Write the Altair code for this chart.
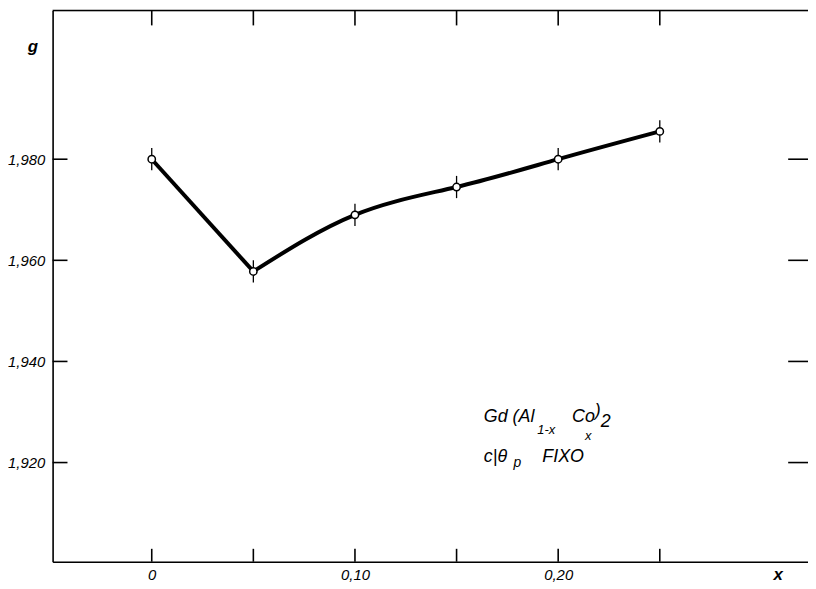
import altair as alt
import pandas as pd

# ---- data ----
x_vals = [0.00, 0.05, 0.10, 0.15, 0.20, 0.25]
g_vals = [1.980, 1.9578, 1.969, 1.9745, 1.980, 1.9855]
g_err = [0.0022, 0.0022, 0.0022, 0.0022, 0.0022, 0.0022]

x_tick_values = [0.00, 0.05, 0.10, 0.15, 0.20, 0.25]
x_label_values = [0.00, 0.10, 0.20]
y_tick_values = [1.920, 1.940, 1.960, 1.980]

X_DOMAIN = [-0.04878, 0.32293]
Y_DOMAIN = [1.90039, 2.00941]
W, H = 762, 556

pts = pd.DataFrame({"x": x_vals, "g": g_vals, "err": g_err})
pts["lo"] = pts["g"] - pts["err"]
pts["hi"] = pts["g"] + pts["err"]

# curve: a sharp corner at the minimum -> two segments
seg_left = pts.iloc[0:2].assign(seg="a")
seg_right = pts.iloc[1:].assign(seg="b")

xt = pd.DataFrame({"x": x_tick_values})
yt = pd.DataFrame({"g": y_tick_values})
one = pd.DataFrame({"k": [0]})

FONT = "Liberation Sans"

xs = alt.Scale(domain=X_DOMAIN, nice=False, zero=False)
ys = alt.Scale(domain=Y_DOMAIN, nice=False, zero=False)

xlab = "datum.value == 0 ? '0' : replace(format(datum.value, '.2f'), '.', ',')"
ylab = "replace(format(datum.value, '.3f'), '.', ',')"

base_axes = alt.Chart(pts).mark_point(opacity=0).encode(
    x=alt.X("x:Q", scale=xs, title=None,
            axis=alt.Axis(values=x_label_values, labelExpr=xlab, ticks=False,
                          grid=False, domainColor="black", domainWidth=1.6,
                          labelFont=FONT, labelFontStyle="italic", labelFontSize=15,
                          labelColor="black", labelBaseline="middle", labelPadding=13)),
    y=alt.Y("g:Q", scale=ys, title=None,
            axis=alt.Axis(values=y_tick_values, labelExpr=ylab, ticks=False,
                          grid=False, domainColor="black", domainWidth=1.6,
                          labelFont=FONT, labelFontStyle="italic", labelFontSize=15,
                          labelColor="black", labelPadding=8)),
)

top_line = alt.Chart(one).mark_rule(color="black", strokeWidth=1.6).encode(
    x=alt.value(0), x2=alt.value(W), y=alt.value(0))

tick_bottom = alt.Chart(xt).mark_rule(color="black", strokeWidth=1.6).encode(
    x=alt.X("x:Q", scale=xs), y=alt.value(H), y2=alt.value(H - 13))
tick_top = alt.Chart(xt).mark_rule(color="black", strokeWidth=1.6).encode(
    x=alt.X("x:Q", scale=xs), y=alt.value(0), y2=alt.value(15))
tick_left = alt.Chart(yt).mark_rule(color="black", strokeWidth=1.6).encode(
    y=alt.Y("g:Q", scale=ys), x=alt.value(0), x2=alt.value(15))
tick_right = alt.Chart(yt).mark_rule(color="black", strokeWidth=1.6).encode(
    y=alt.Y("g:Q", scale=ys), x=alt.value(W - 20), x2=alt.value(W))

line_left = alt.Chart(seg_left).mark_line(color="black", strokeWidth=4).encode(
    x=alt.X("x:Q", scale=xs), y=alt.Y("g:Q", scale=ys))
line_right = alt.Chart(seg_right).mark_line(color="black", strokeWidth=4,
                                            interpolate="natural").encode(
    x=alt.X("x:Q", scale=xs), y=alt.Y("g:Q", scale=ys))

errbars = alt.Chart(pts).mark_rule(color="black", strokeWidth=1.3).encode(
    x=alt.X("x:Q", scale=xs), y=alt.Y("lo:Q", scale=ys), y2="hi:Q")

circles = alt.Chart(pts).mark_point(shape="circle", size=55, filled=True, fill="white",
                                     stroke="black", strokeWidth=1.5, opacity=1).encode(
    x=alt.X("x:Q", scale=xs), y=alt.Y("g:Q", scale=ys))


def txt(s, px, py, size=18, weight="normal", style="italic", align="left"):
    return alt.Chart(one).mark_text(text=s, align=align, baseline="middle", font=FONT,
                                    fontSize=size, fontStyle=style, fontWeight=weight,
                                    color="black").encode(x=alt.value(px), y=alt.value(py))


labels = [
    txt("g", -20, 37, size=17, weight="bold", align="center"),
    txt("x", 732, 569, size=17, weight="bold", align="center"),
    txt("Gd (Al", 435, 410),
    txt("1-x", 489, 423, size=13),
    txt("Co", 524, 410),
    txt(")", 547, 404),
    txt("x", 537, 429, size=13),
    txt("2", 553, 415),
    txt("c|θ", 435, 450),
    txt("p", 465, 456, size=14),
    txt("FIXO", 494, 450),
]

chart = alt.layer(
    base_axes, top_line, tick_bottom, tick_top, tick_left, tick_right,
    line_left, line_right, errbars, circles, *labels
).properties(
    width=W, height=H,
    autosize=alt.AutoSizeParams(type="none"),
    padding={"left": 45, "top": 0, "right": 0, "bottom": 25},
).configure_view(stroke=None).configure(background="white")

chart.save("out.html", embed_options={"renderer": "svg", "actions": False})
